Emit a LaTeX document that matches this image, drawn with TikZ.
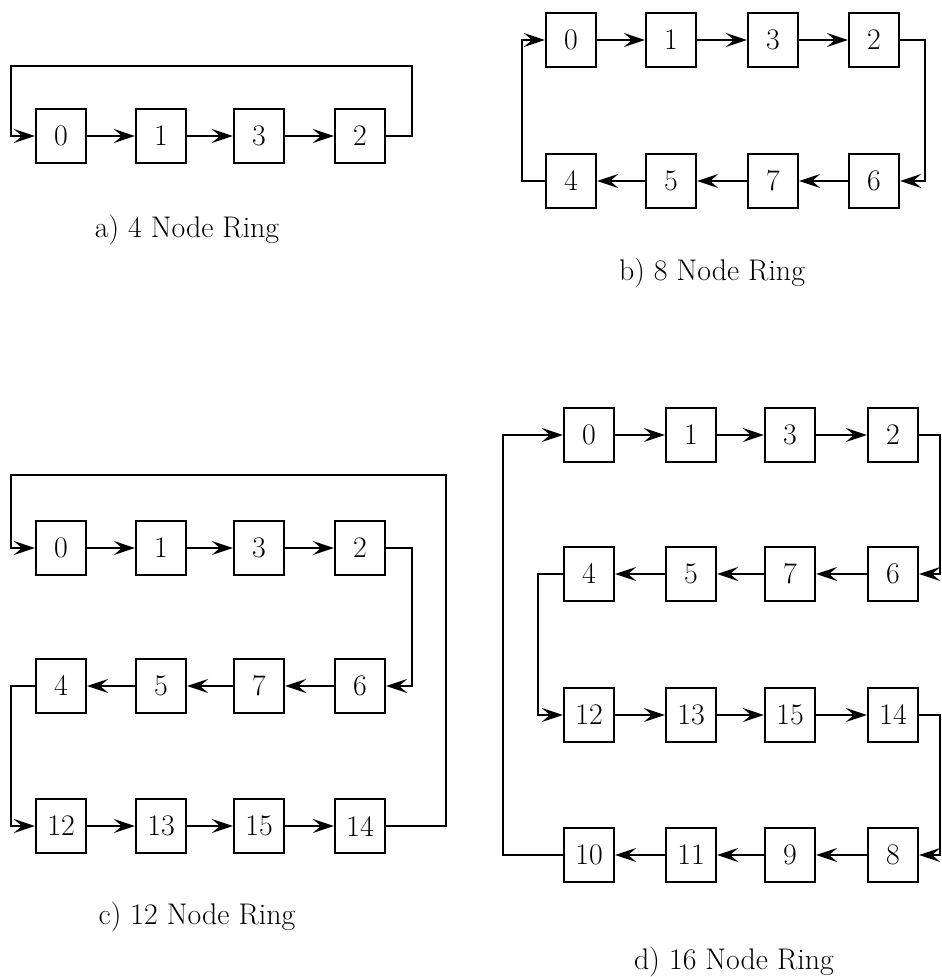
\documentclass[tikz,border=0pt]{standalone}
\usetikzlibrary{arrows.meta}

\begin{document}
\begin{tikzpicture}[x=0.02cm, y=-0.02cm,
  box/.style={draw, line width=1.3pt, minimum width=10mm, minimum height=10.8mm, inner sep=0pt, font=\fontsize{17}{20}\selectfont},
  caption/.style={font=\fontsize{17}{20}\selectfont},
  arr/.style={-{Stealth[length=4.2mm, width=2.8mm, inset=1.6mm]}, line width=1.3pt}]
\useasboundingbox (0,0) rectangle (942,977);
% a) 4 node ring
\node[box] (a0) at (61,136) {0};
\node[box] (a1) at (161,136) {1};
\node[box] (a3) at (259,136) {3};
\node[box] (a2) at (360,136) {2};
\draw[arr] (a0) -- (a1);
\draw[arr] (a1) -- (a3);
\draw[arr] (a3) -- (a2);
\draw[arr] (a2.east) -- (412,136) |- (11,66) |- (a0.west);
\node[caption] (capa) at (187,230) {a) 4 Node Ring};
% b) 8 node ring
\node[box] (b0) at (571,40) {0};
\node[box] (b1) at (671,40) {1};
\node[box] (b3) at (773,40) {3};
\node[box] (b2) at (874,40) {2};
\node[box] (b4) at (571,181) {4};
\node[box] (b5) at (671,181) {5};
\node[box] (b7) at (773,181) {7};
\node[box] (b6) at (874,181) {6};
\draw[arr] (b0) -- (b1);
\draw[arr] (b1) -- (b3);
\draw[arr] (b3) -- (b2);
\draw[arr] (b2.east) -- (925,40) |- (b6.east);
\draw[arr] (b6) -- (b7);
\draw[arr] (b7) -- (b5);
\draw[arr] (b5) -- (b4);
\draw[arr] (b4.west) -- (522,181) |- (b0.west);
\node[caption] (capb) at (712,273) {b) 8 Node Ring};
% c) 12 node ring
\node[box] (c0) at (61,548) {0};
\node[box] (c1) at (161,548) {1};
\node[box] (c3) at (259,548) {3};
\node[box] (c2) at (360,548) {2};
\node[box] (c4) at (61,686) {4};
\node[box] (c5) at (161,686) {5};
\node[box] (c7) at (259,686) {7};
\node[box] (c6) at (360,686) {6};
\node[box] (c12) at (61,826) {12};
\node[box] (c13) at (161,826) {13};
\node[box] (c15) at (259,826) {15};
\node[box] (c14) at (360,826) {14};
\draw[arr] (c0) -- (c1);
\draw[arr] (c1) -- (c3);
\draw[arr] (c3) -- (c2);
\draw[arr] (c2.east) -- (412,548) |- (c6.east);
\draw[arr] (c6) -- (c7);
\draw[arr] (c7) -- (c5);
\draw[arr] (c5) -- (c4);
\draw[arr] (c4.west) -- (11,686) |- (c12.west);
\draw[arr] (c12) -- (c13);
\draw[arr] (c13) -- (c15);
\draw[arr] (c15) -- (c14);
\draw[arr] (c14.east) -- (446,826) |- (11,475) |- (c0.west);
\node[caption] (capc) at (197,917) {c) 12 Node Ring};
% d) 16 node ring
\node[box] (d0) at (589,435) {0};
\node[box] (d1) at (691,435) {1};
\node[box] (d3) at (790,435) {3};
\node[box] (d2) at (893,435) {2};
\node[box] (d4) at (589,574) {4};
\node[box] (d5) at (691,574) {5};
\node[box] (d7) at (790,574) {7};
\node[box] (d6) at (893,574) {6};
\node[box] (d12) at (589,715) {12};
\node[box] (d13) at (691,715) {13};
\node[box] (d15) at (790,715) {15};
\node[box] (d14) at (893,715) {14};
\node[box] (d10) at (589,855) {10};
\node[box] (d11) at (691,855) {11};
\node[box] (d9) at (790,855) {9};
\node[box] (d8) at (893,855) {8};
\draw[arr] (d0) -- (d1);
\draw[arr] (d1) -- (d3);
\draw[arr] (d3) -- (d2);
\draw[arr] (d2.east) -- (940,435) |- (d6.east);
\draw[arr] (d6) -- (d7);
\draw[arr] (d7) -- (d5);
\draw[arr] (d5) -- (d4);
\draw[arr] (d4.west) -- (538,574) |- (d12.west);
\draw[arr] (d12) -- (d13);
\draw[arr] (d13) -- (d15);
\draw[arr] (d15) -- (d14);
\draw[arr] (d14.east) -- (940,715) |- (d8.east);
\draw[arr] (d8) -- (d9);
\draw[arr] (d9) -- (d11);
\draw[arr] (d11) -- (d10);
\draw[arr] (d10.west) -- (503,855) |- (d0.west);
\node[caption] (capd) at (734,962) {d) 16 Node Ring};
\end{tikzpicture}
\end{document}
